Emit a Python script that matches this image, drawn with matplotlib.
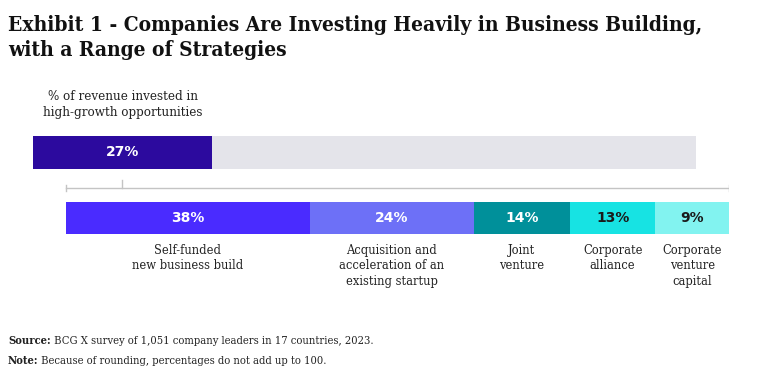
import matplotlib.pyplot as plt
from matplotlib.text import Annotation

top_value = 27
top_label = '% of revenue invested in\nhigh-growth opportunities'

strategies = ['Self-funded\nnew business build',
              'Acquisition and\nacceleration of an\nexisting startup',
              'Joint\nventure',
              'Corporate\nalliance',
              'Corporate\nventure\ncapital']
shares = [38, 24, 14, 13, 9]
# segment widths as drawn in the exhibit (share of the bar)
widths = [36.8, 24.7, 14.5, 12.9, 11.1]

colors = ['#4a2bff', '#6d70f7', '#00909a', '#17e3e3', '#82f3f0']
text_colors = ['white', 'white', 'white', '#1a1a1a', '#1a1a1a']

W, H = 768, 385
fig = plt.figure(figsize=(W / 100, H / 100), dpi=100)

def px_axes(x0, y0, x1, y1):
    return fig.add_axes([x0 / W, 1 - y1 / H, (x1 - x0) / W, (y1 - y0) / H])

sans = 'DejaVu Sans'
tstyle = dict(family='DejaVu Serif', stretch='condensed')

fig.text(8 / W, 1 - 31 / H, 'Exhibit 1 - Companies Are Investing Heavily in Business Building,',
         fontsize=15, fontweight='bold', color='#111111', va='baseline', **tstyle)
fig.text(8 / W, 1 - 56 / H, 'with a Range of Strategies',
         fontsize=15, fontweight='bold', color='#111111', va='baseline', **tstyle)

# top bar
ax1 = px_axes(33, 136, 696, 169)
ax1.barh(0, 100, height=1, color='#e4e4ea')
ax1.barh(0, top_value, height=1, color='#2c0a9e')
ax1.text(top_value / 2, 0, f'{top_value}%', ha='center', va='center',
         color='white', fontsize=10, fontweight='bold', family=sans)
ax1.set_xlim(0, 100)
ax1.set_ylim(-0.5, 0.5)
ax1.axis('off')
ax1.text(top_value / 2, 1.45, top_label, ha='center', va='center',
         fontsize=9.5, color='#222222', linespacing=1.3, **tstyle)

# bracket linking the two bars
axb = px_axes(33, 176, 729, 196)
axb.set_xlim(33, 729)
axb.set_ylim(196, 176)
axb.plot([66, 729], [188, 188], color='#c4c4c4', lw=1)
axb.plot([66, 66], [185, 191], color='#c4c4c4', lw=1)
axb.plot([729, 729], [185, 191], color='#c4c4c4', lw=1)
axb.plot([122, 122], [180, 188], color='#c4c4c4', lw=1)
axb.axis('off')

# bottom bar
ax2 = px_axes(66, 202, 729, 234)
left = 0
for name, val, w, c, tc in zip(strategies, shares, widths, colors, text_colors):
    ax2.barh(0, w, left=left, height=1, color=c)
    mid = left + w / 2
    ax2.text(mid, 0, f'{val}%', ha='center', va='center', color=tc,
             fontsize=10, fontweight='bold', family=sans)
    ax2.text(mid, -0.8, name, ha='center', va='top', fontsize=9.2,
             color='#222222', linespacing=1.25, **tstyle)
    left += w
ax2.set_xlim(0, sum(widths))
ax2.set_ylim(-0.5, 0.5)
ax2.axis('off')

# footnotes: bold head followed by regular text
notes = [(344, 'Source:', ' BCG X survey of 1,051 company leaders in 17 countries, 2023.'),
         (364, 'Note:', ' Because of rounding, percentages do not add up to 100.')]
for ypx, head, body in notes:
    t = fig.text(8 / W, 1 - ypx / H, head, fontsize=8, fontweight='bold',
                 color='#222222', **tstyle)
    fig.add_artist(Annotation(body, xy=(1, 0), xycoords=t, va='bottom',
                              fontsize=8, color='#222222', **tstyle))

fig.savefig('out.png', dpi=100)
